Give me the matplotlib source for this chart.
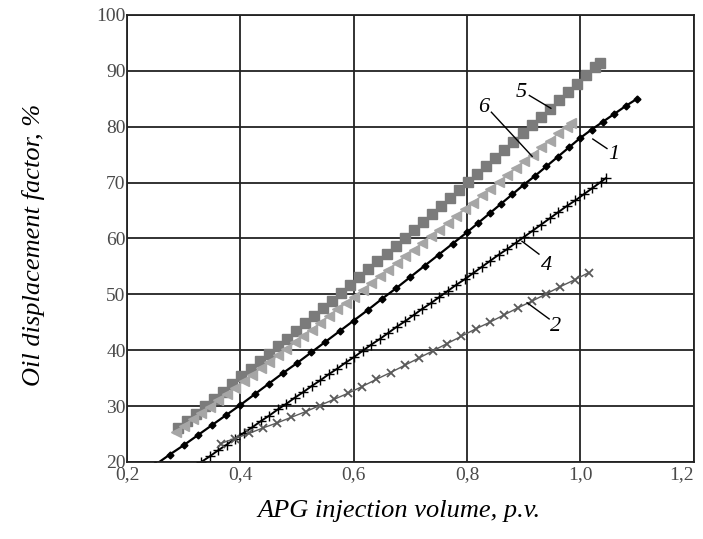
import matplotlib
matplotlib.use("Agg")
import matplotlib.pyplot as plt
from matplotlib.ticker import FuncFormatter

plt.rcParams['font.family'] = ['Liberation Serif', 'DejaVu Serif']

# curve 5 - dark grey squares
x5 = [0.290, 0.306, 0.322, 0.338, 0.354, 0.370, 0.386, 0.402, 0.418, 0.434,
      0.450, 0.466, 0.482, 0.498, 0.514, 0.530, 0.546, 0.562, 0.578, 0.594,
      0.610, 0.626, 0.642, 0.658, 0.674, 0.690, 0.706, 0.722, 0.738, 0.754,
      0.770, 0.786, 0.802, 0.818, 0.834, 0.850, 0.866, 0.882, 0.898, 0.914,
      0.930, 0.946, 0.962, 0.978, 0.994, 1.010, 1.026, 1.034]
y5 = [26.0, 27.3, 28.6, 30.0, 31.3, 32.6, 33.9, 35.3, 36.6, 38.0,
      39.3, 40.7, 42.0, 43.4, 44.8, 46.1, 47.5, 48.9, 50.3, 51.7,
      53.1, 54.5, 55.9, 57.3, 58.7, 60.1, 61.5, 62.9, 64.3, 65.8,
      67.2, 68.6, 70.1, 71.5, 73.0, 74.4, 75.9, 77.3, 78.8, 80.3,
      81.8, 83.2, 84.7, 86.2, 87.7, 89.2, 90.7, 91.4]

# curve 6 - light grey triangles
x6 = [0.286, 0.301, 0.316, 0.331, 0.346, 0.361, 0.376, 0.391, 0.406, 0.421,
      0.436, 0.451, 0.466, 0.481, 0.496, 0.511, 0.526, 0.541, 0.556, 0.571,
      0.586, 0.601, 0.616, 0.631, 0.646, 0.661, 0.676, 0.691, 0.706, 0.721,
      0.736, 0.751, 0.766, 0.781, 0.796, 0.811, 0.826, 0.841, 0.856, 0.871,
      0.886, 0.901, 0.916, 0.931, 0.946, 0.961, 0.976, 0.983]
y6 = [25.4, 26.5, 27.7, 28.8, 29.9, 31.1, 32.2, 33.3, 34.5, 35.6,
      36.8, 37.9, 39.1, 40.3, 41.4, 42.6, 43.7, 44.9, 46.1, 47.3,
      48.4, 49.6, 50.8, 52.0, 53.2, 54.4, 55.6, 56.8, 58.0, 59.2,
      60.4, 61.6, 62.8, 64.0, 65.2, 66.4, 67.7, 68.9, 70.1, 71.3,
      72.6, 73.8, 75.0, 76.3, 77.5, 78.8, 80.0, 80.6]

# curve 1 - black diamonds
x1 = [0.25, 0.275, 0.30, 0.325, 0.35, 0.375, 0.40, 0.425, 0.45, 0.475,
      0.50, 0.525, 0.55, 0.575, 0.60, 0.625, 0.65, 0.675, 0.70, 0.725,
      0.75, 0.775, 0.80, 0.82, 0.84, 0.86, 0.88, 0.90, 0.92, 0.94,
      0.96, 0.98, 1.00, 1.02, 1.04, 1.06, 1.08, 1.10]
y1 = [19.5, 21.3, 23.0, 24.8, 26.6, 28.4, 30.2, 32.1, 34.0, 35.9,
      37.7, 39.6, 41.5, 43.4, 45.3, 47.2, 49.2, 51.1, 53.1, 55.1,
      57.1, 59.1, 61.1, 62.8, 64.5, 66.2, 67.9, 69.6, 71.2, 72.9,
      74.6, 76.3, 78.0, 79.5, 80.9, 82.3, 83.7, 85.0]

# curve 4 - black line with crosses
x4 = [0.331, 0.346, 0.361, 0.376, 0.391, 0.406, 0.421, 0.436, 0.451, 0.466,
      0.481, 0.496, 0.511, 0.526, 0.541, 0.556, 0.571, 0.586, 0.601, 0.616,
      0.631, 0.646, 0.661, 0.676, 0.691, 0.706, 0.721, 0.736, 0.751, 0.766,
      0.781, 0.796, 0.811, 0.826, 0.841, 0.856, 0.871, 0.886, 0.901, 0.916,
      0.931, 0.946, 0.961, 0.976, 0.991, 1.006, 1.021, 1.036, 1.045]
y4 = [20.0, 21.0, 22.1, 23.1, 24.2, 25.2, 26.2, 27.3, 28.3, 29.4,
      30.4, 31.5, 32.5, 33.6, 34.6, 35.7, 36.7, 37.8, 38.8, 39.9,
      41.0, 42.0, 43.1, 44.2, 45.2, 46.3, 47.4, 48.4, 49.5, 50.6,
      51.7, 52.7, 53.8, 54.9, 56.0, 57.1, 58.1, 59.2, 60.3, 61.4,
      62.5, 63.6, 64.7, 65.8, 66.8, 67.9, 69.0, 70.1, 70.8]

# curve 2 - grey x markers
x2 = [0.365, 0.39, 0.415, 0.44, 0.465, 0.49, 0.515, 0.54, 0.565, 0.59,
      0.615, 0.64, 0.665, 0.69, 0.715, 0.74, 0.765, 0.79, 0.815, 0.84,
      0.865, 0.89, 0.915, 0.94, 0.965, 0.99, 1.015]
y2 = [23.3, 24.2, 25.1, 26.1, 27.0, 28.0, 29.0, 30.1, 31.2, 32.3,
      33.5, 34.8, 36.0, 37.3, 38.6, 39.9, 41.2, 42.5, 43.8, 45.0,
      46.3, 47.6, 48.8, 50.1, 51.4, 52.6, 53.9]

xticks = [0.2, 0.4, 0.6, 0.8, 1.0, 1.2]
yticks = [20, 30, 40, 50, 60, 70, 80, 90, 100]

# curve number labels: text position, leader start, leader end
labels = [('5', (0.895, 86.2), (0.910, 85.6), (0.948, 83.3)),
          ('6', (0.830, 83.5), (0.843, 82.6), (0.915, 74.7)),
          ('1', (1.059, 75.0), (1.022, 77.8), (1.047, 76.1)),
          ('4', (0.940, 55.2), (0.897, 59.5), (0.927, 57.2)),
          ('2', (0.957, 44.2), (0.906, 48.5), (0.945, 45.6))]

fig = plt.figure(figsize=(7.03, 5.39), dpi=100)
ax = fig.add_axes([0.1807, 0.1429, 0.806, 0.8293])

gc = '#222222'
ax.grid(True, color=gc, lw=1.3)
ax.set_axisbelow(True)
for s in ax.spines.values():
    s.set_color(gc)
    s.set_linewidth(1.3)

ax.plot(x5, y5, color='#7b7b7b', marker='s', ms=6.5, lw=1, mec='#7b7b7b')
ax.plot(x6, y6, color='#a6a6a6', marker='<', ms=7.5, lw=1, mec='#a6a6a6')
ax.plot(x1, y1, color='black', marker='D', ms=3.5, lw=1.6)
ax.plot(x4, y4, color='black', marker='+', ms=7, mew=1, lw=1.4)
ax.plot(x2, y2, color='#5a5a5a', marker='x', ms=6, mew=1.3, lw=1)

for t, tp, a, b in labels:
    ax.plot([a[0], b[0]], [a[1], b[1]], color='black', lw=1)
    ax.text(tp[0], tp[1], t, fontsize=16, style='italic', ha='center', va='center')

ax.set_xlim(0.2, 1.2)
ax.set_ylim(20, 100)
ax.set_xticks(xticks)
ax.set_yticks(yticks)
ax.xaxis.set_major_formatter(FuncFormatter(lambda v, p: ('%.1f' % v).replace('.', ',')))
ax.tick_params(length=0, labelsize=14, labelcolor='#4a4a4a')
ax.tick_params(axis='x', pad=3)
ax.tick_params(axis='y', pad=1)
# last x label sits against the right edge of the picture
ax.get_xticklabels()[-1].set_horizontalalignment('right')

fig.text(0.568, 0.052, 'APG injection volume, p.v.', fontsize=19, style='italic',
         ha='center', va='center')
fig.text(0.047, 0.545, 'Oil displacement factor, %', fontsize=19, style='italic',
         rotation=90, ha='center', va='center')

fig.savefig('out.png', dpi=100)
